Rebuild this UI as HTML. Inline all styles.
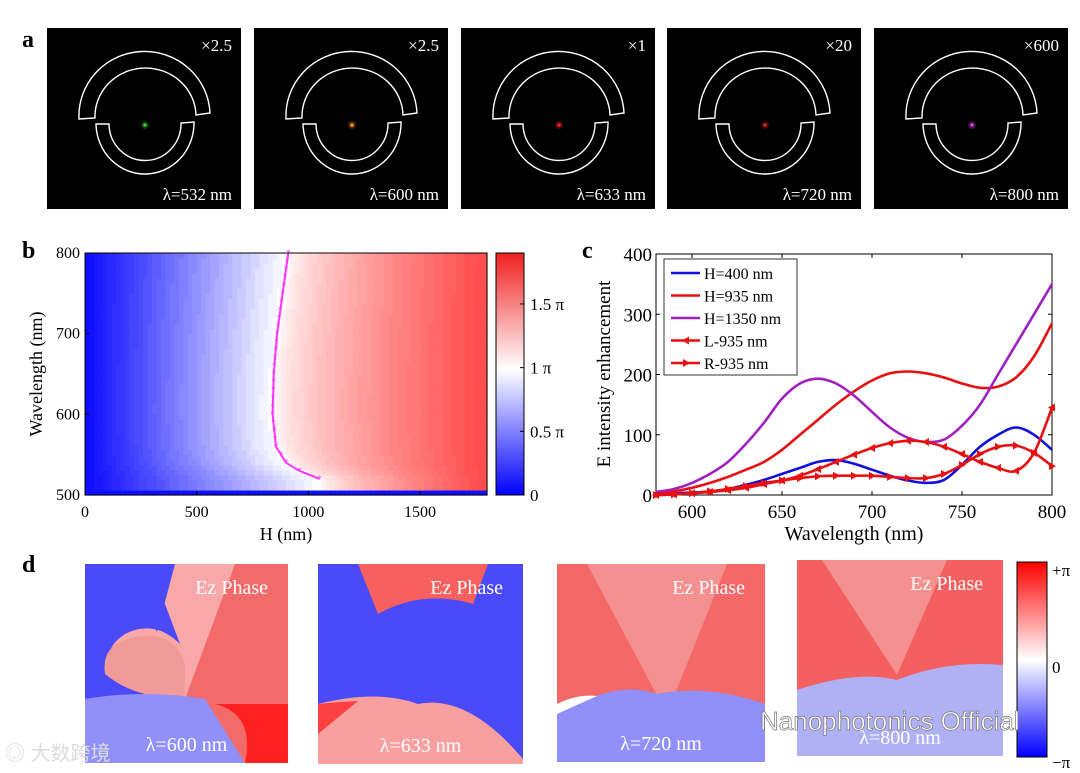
<!DOCTYPE html>
<html><head><meta charset="utf-8"><style>
body{margin:0;background:#fff;}
svg{display:block;font-family:"Liberation Serif",serif;}
</style></head><body>
<svg id="fig" width="1080" height="773" viewBox="0 0 1080 773" xmlns="http://www.w3.org/2000/svg">
<defs>
<linearGradient id="cbar" x1="0" y1="1" x2="0" y2="0"><stop offset="0" stop-color="#0000ff"/><stop offset="0.5" stop-color="#ffffff"/><stop offset="1" stop-color="#ff0000"/></linearGradient>
<linearGradient id="cbarB" x1="0" y1="1" x2="0" y2="0"><stop offset="0" stop-color="#0000ff"/><stop offset="0.52" stop-color="#ffffff"/><stop offset="1" stop-color="#f02020"/></linearGradient>
</defs>
<g id="panelA"></g>
<g id="panelB"></g>
<g id="panelC"></g>
<g id="panelD"></g>
</svg>
<script>
// ---------- data ----------
const aScales = ["×2.5","×2.5","×1","×20","×600"];
const aWaves = ["λ=532 nm","λ=600 nm","λ=633 nm","λ=720 nm","λ=800 nm"];
const aSpotColors = ["#30d030","#ff9020","#ff2020","#e02020","#e040e0"];

const cWaves = [580,590,600,610,620,630,640,650,660,670,680,690,700,710,720,730,740,750,760,770,780,790,800];
const cH400  = [2,3,4,6,10,17,25,35,45,55,58,52,42,32,24,20,25,50,80,100,112,100,75];
const cH935  = [2,6,12,20,30,42,55,75,100,125,150,172,190,202,205,202,195,185,178,180,195,230,285];
const cH1350 = [5,10,20,35,55,85,120,160,185,193,185,165,138,112,95,88,92,115,150,200,250,300,350];
const cL935  = [0,1,3,5,8,12,18,24,32,43,55,67,78,86,90,88,80,68,55,45,40,70,145];
const cR935  = [0,1,3,6,10,15,20,24,28,31,32,32,32,30,28,28,35,50,68,80,82,70,48];
const cXTicks = [600,650,700,750,800];
const cYTicks = [0,100,200,300,400];

const bContourWl = [520,530,540,560,600,650,700,750,800];
const bContourH  = [1050,960,900,855,840,845,860,885,910];
const bXTicks = [0,500,1000,1500];
const bYTicks = [500,600,700,800];
const bCbarLabels = ["0","0.5 π","1 π","1.5 π"];
const bCbarVals = [0,0.5,1,1.5];

const dWaves = ["λ=600 nm","λ=633 nm","λ=720 nm","λ=800 nm"];

const NS="http://www.w3.org/2000/svg";
function mk(parent,tag,attrs,text){const e=document.createElementNS(NS,tag);for(const k in attrs)e.setAttribute(k,attrs[k]);if(text!==undefined)e.textContent=text;parent.appendChild(e);return e;}
const fig=document.getElementById('fig');

let t;
t=mk(fig,'text',{x:22,y:47,'font-size':24,'font-weight':'bold'},'a');
t=mk(fig,'text',{x:22,y:258,'font-size':24,'font-weight':'bold'},'b');
t=mk(fig,'text',{x:582,y:258,'font-size':24,'font-weight':'bold'},'c');
t=mk(fig,'text',{x:22,y:572,'font-size':24,'font-weight':'bold'},'d');

// ---------- panel a ----------
const pa=document.getElementById('panelA');
const aX=[47,254,461,667,874];
aScales.forEach((s,i)=>{
  const g=mk(pa,'g',{transform:`translate(${aX[i]},28)`});
  
  
  mk(g,'rect',{x:0,y:0,width:194,height:181,fill:'#000'});
  mk(g,'path',{d:'M32,91 A65,64 0 0 1 163,85 L149,87 A50,48 0 0 0 48,90 Z',fill:'none',stroke:'#fff','stroke-width':1.4});
  mk(g,'path',{d:'M49,96 L62,96 A36,37 0 0 0 134,95 L147,94 A49,51 0 0 1 49,96 Z',fill:'none',stroke:'#fff','stroke-width':1.4});
  mk(g,'circle',{cx:98,cy:97,r:4,fill:aSpotColors[i],opacity:0.25});
  mk(g,'circle',{cx:98,cy:97,r:1.8,fill:aSpotColors[i]});
  const st=mk(g,'text',{x:185,y:23,'font-size':17,fill:'#fff','text-anchor':'end'},s);
  
  const wt=mk(g,'text',{x:185,y:172,'font-size':17,fill:'#fff','text-anchor':'end'},aWaves[i]);
  
});

// ---------- panel b ----------
const pb=document.getElementById('panelB');
const bX0=85,bX1=487,bY0=253,bY1=495;
const bx=h=>bX0+(h/1800)*(bX1-bX0);
const by=w=>bY1-((w-500)/300)*(bY1-bY0);
function hc(w){ if(w<=bContourWl[0])return bContourH[0];
  for(let i=1;i<bContourWl.length;i++){if(w<=bContourWl[i]){const f=(w-bContourWl[i-1])/(bContourWl[i]-bContourWl[i-1]);return bContourH[i-1]+f*(bContourH[i]-bContourH[i-1]);}}
  return bContourH[bContourH.length-1];}
function cmap(p){
  p=Math.max(0,Math.min(2,p));
  if(p<1){const f=Math.pow(p,1.3);return `rgb(${Math.round(10+245*f)},${Math.round(10+245*f)},255)`;}
  const f=(p-1);return `rgb(255,${Math.round(255-215*f)},${Math.round(255-215*f)})`;}
const nc=90,nr=48;
for(let i=0;i<nc;i++)for(let j=0;j<nr;j++){
  const h=(i+0.5)/nc*1800,w=500+(j+0.5)/nr*300;
  let p=Math.pow(h/hc(w),0.8);
  if(h>hc(w))p=1+0.85*Math.pow((h-hc(w))/(1800-hc(w)),0.7);
  p=Math.round(p*30)/30;
  if(w<509)p=0.05;
  const r=mk(pb,'rect',{x:bx(i/nc*1800),y:by(500+(j+1)/nr*300),width:(bX1-bX0)/nc+0.6,height:(bY1-bY0)/nr+0.6,fill:cmap(p)});
  
  
}
let cp='';
for(let w=520;w<=800;w+=5){cp+=(cp?'L':'M')+bx(hc(w)).toFixed(1)+','+by(w).toFixed(1);}
const cl=mk(pb,'path',{d:cp,fill:'none',stroke:'#ff33ff','stroke-width':2});

for(let w=520;w<=800;w+=10){const s=mk(pb,'text',{x:bx(hc(w)),y:by(w)+3,'font-size':9,fill:'#ff33ff','text-anchor':'middle'},'*');}
mk(pb,'rect',{x:bX0,y:bY0,width:bX1-bX0,height:bY1-bY0,fill:'none',stroke:'#000','stroke-width':1});
bXTicks.forEach(v=>{mk(pb,'line',{x1:bx(v),x2:bx(v),y1:bY1,y2:bY1-4,stroke:'#000'});
  const tt=mk(pb,'text',{x:bx(v),y:bY1+22,'font-size':16,'text-anchor':'middle'},String(v));});
bYTicks.forEach(v=>{mk(pb,'line',{x1:bX0,x2:bX0+4,y1:by(v),y2:by(v),stroke:'#000'});
  const tt=mk(pb,'text',{x:bX0-5,y:by(v)+5,'font-size':16,'text-anchor':'end'},String(v));});
t=mk(pb,'text',{x:286,y:540,'font-size':18,'text-anchor':'middle'},'H (nm)');
t=mk(pb,'text',{x:0,y:0,'font-size':18,'text-anchor':'middle',transform:'translate(42,374) rotate(-90)'},'Wavelength (nm)');
const cb=mk(pb,'rect',{x:496,y:253,width:28,height:242,fill:'url(#cbarB)',stroke:'#000','stroke-width':1});

bCbarVals.forEach((v,i)=>{const yy=495-v/1.9*242;
  mk(pb,'line',{x1:520,x2:524,y1:yy,y2:yy,stroke:'#000'});
  const tt=mk(pb,'text',{x:530,y:yy+6,'font-size':17},bCbarLabels[i]);});

// ---------- panel c ----------
const pc=document.getElementById('panelC');
const cX0=656,cX1=1052,cY0=254,cY1=495;
const cx=w=>cX0+(w-580)/220*(cX1-cX0);
const cy=v=>cY1-v/400*(cY1-cY0);
mk(pc,'rect',{x:cX0,y:cY0,width:cX1-cX0,height:cY1-cY0,fill:'#fff',stroke:'#000','stroke-width':1});
cXTicks.forEach(v=>{mk(pc,'line',{x1:cx(v),x2:cx(v),y1:cY1,y2:cY1-4,stroke:'#000'});mk(pc,'line',{x1:cx(v),x2:cx(v),y1:cY0,y2:cY0+4,stroke:'#000'});
  const tt=mk(pc,'text',{x:cx(v),y:cY1+23,'font-size':19,'text-anchor':'middle'},String(v));});
cYTicks.forEach(v=>{mk(pc,'line',{x1:cX0,x2:cX0+4,y1:cy(v),y2:cy(v),stroke:'#000'});mk(pc,'line',{x1:cX1,x2:cX1-4,y1:cy(v),y2:cy(v),stroke:'#000'});
  const tt=mk(pc,'text',{x:cX0-4,y:cy(v)+7,'font-size':19,'text-anchor':'end'},String(v));});
t=mk(pc,'text',{x:854,y:540,'font-size':20,'text-anchor':'middle'},'Wavelength (nm)');
t=mk(pc,'text',{x:0,y:0,'font-size':19,'text-anchor':'middle',transform:'translate(610,374) rotate(-90)'},'E intensity enhancement');
function smoothPath(vals){
  const pts=vals.map((v,i)=>[cx(cWaves[i]),cy(v)]);
  let d='M'+pts[0][0].toFixed(1)+','+pts[0][1].toFixed(1);
  for(let i=0;i<pts.length-1;i++){
    const p0=pts[Math.max(0,i-1)],p1=pts[i],p2=pts[i+1],p3=pts[Math.min(pts.length-1,i+2)];
    const c1=[p1[0]+(p2[0]-p0[0])/6,p1[1]+(p2[1]-p0[1])/6],c2=[p2[0]-(p3[0]-p1[0])/6,p2[1]-(p3[1]-p1[1])/6];
    d+=`C${c1[0].toFixed(1)},${c1[1].toFixed(1)} ${c2[0].toFixed(1)},${c2[1].toFixed(1)} ${p2[0].toFixed(1)},${p2[1].toFixed(1)}`;
  }
  return d;}
function line(vals,color,name){
  const p=mk(pc,'path',{d:smoothPath(vals),fill:'none',stroke:color,'stroke-width':2.6,'stroke-linejoin':'round'});
  }
function tri(x,y,dir){return dir<0?`M${x-4},${y} L${x+3},${y-4} L${x+3},${y+4} Z`:`M${x+4},${y} L${x-3},${y-4} L${x-3},${y+4} Z`;}
line(cH400,'#1010e0','series-h400');
line(cH935,'#e81010','series-h935');
line(cH1350,'#a020c0','series-h1350');
line(cL935,'#e81010','series-l935');
line(cR935,'#e81010','series-r935');
cL935.forEach((v,i)=>{const m=mk(pc,'path',{d:tri(cx(cWaves[i]),cy(v),-1),fill:'#e81010'});});
cR935.forEach((v,i)=>{const m=mk(pc,'path',{d:tri(cx(cWaves[i]),cy(v),1),fill:'#e81010'});});
const lg=mk(pc,'g',{});
mk(lg,'rect',{x:664,y:259,width:133,height:116,fill:'#fff',stroke:'#000','stroke-width':0.8});
const lItems=[["H=400 nm",'#1010e0',0],["H=935 nm",'#e81010',0],["H=1350 nm",'#a020c0',0],["L-935 nm",'#e81010',-1],["R-935 nm",'#e81010',1]];
lItems.forEach((it,i)=>{const yy=273+i*22.5;
  const le=mk(lg,'g',{});
  mk(le,'line',{x1:671,x2:700,y1:yy,y2:yy,stroke:it[1],'stroke-width':2.6});
  if(it[2])mk(le,'path',{d:tri(686,yy,it[2]),fill:it[1]});
  mk(le,'text',{x:704,y:yy+6,'font-size':16},it[0]);});

// ---------- panel d ----------
const pd=document.getElementById('panelD');
const dBoxes=[[85,564,203,199],[318,564,205,200],[557,564,208,198],[797,560,206,196]];
const B='#4a4af8',R='#f86060',LR='#f8a8a8',LB='#9090f8';
const dShapes=[
 [[B,'M0,0 H203 V199 H0Z'],['#f26a6a','M135,0 H203 V199 H130 Q110,140 100,135 Z'],[LR,'M65,0 H150 L100,135 Q60,130 40,110 Q10,90 40,70 Q70,55 95,80 Z'],['#f09a9a','M20,110 Q15,75 60,72 Q90,70 100,100 L100,135 Q50,135 20,110Z'],[B,'M40,0 H90 L72,68 Z'],[LB,'M0,135 Q60,125 120,135 L160,199 H0Z'],['#ff2020','M130,140 Q170,150 160,199 H203 V140Z']],
 [[B,'M0,0 H205 V200 H0Z'],[R,'M40,0 H170 L155,40 Q105,25 60,50 Z'],['#f8a0a0','M0,140 Q60,125 100,140 Q150,130 205,195 V200 H0Z'],['#ff4040','M0,140 Q20,138 40,137 L0,170Z']],
 [['#f46868','M0,0 H208 V198 H0Z'],['#f49090','M30,0 H170 L110,150 Z'],[LB,'M0,150 Q60,115 100,130 Q150,120 208,140 V198 H0Z'],['#ffffff','M0,140 Q20,130 40,132 L0,150Z']],
 [['#f46060','M0,0 H206 V196 H0Z'],['#f49090','M25,0 H150 L100,115 Z'],['#b0b0f4','M0,130 Q60,110 100,120 Q150,100 206,105 V196 H0Z']]
];
dBoxes.forEach((b,i)=>{
  const g=mk(pd,'g',{transform:`translate(${b[0]},${b[1]})`});
  
  const clip=mk(g,'clipPath',{id:'dc'+i});
  mk(clip,'rect',{x:0,y:0,width:b[2],height:b[3]});
  const gg=mk(g,'g',{'clip-path':`url(#dc${i})`});
  dShapes[i].forEach(s=>mk(gg,'path',{d:s[1],fill:s[0]}));
  const e=mk(g,'text',{x:b[2]-20,y:30,'font-size':20,fill:'#fff','text-anchor':'end'},'Ez Phase');
  const w=mk(g,'text',{x:b[2]/2,y:b[3]-12,'font-size':20,fill:'#fff','text-anchor':'middle'},dWaves[i]);
});
const dcb=mk(pd,'rect',{x:1017,y:562,width:30,height:195,fill:'url(#cbar)',stroke:'#000','stroke-width':1});

[['+π',570],['0',667],['−π',762]].forEach(l=>{const tt=mk(pd,'text',{x:1052,y:l[1]+6,'font-size':17},l[0]);});
t=mk(fig,'text',{x:760,y:730,'font-size':26,fill:'#ffffff','font-family':'Liberation Sans, sans-serif',stroke:'#777','stroke-width':0.7},'Nanophotonics Official');
t=mk(fig,'text',{x:5,y:760,'font-size':20,fill:'#ddd','font-family':'Liberation Sans, Noto Sans CJK SC, sans-serif'},'◎ 大数跨境');
</script>
</body></html>
